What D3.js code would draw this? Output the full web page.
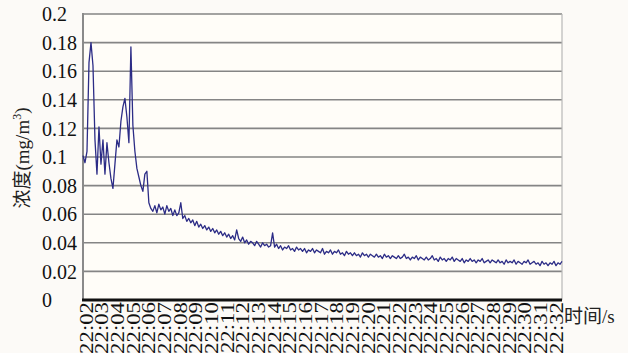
<!DOCTYPE html>
<html>
<head>
<meta charset="utf-8">
<script src="https://cdn.jsdelivr.net/npm/d3@7"></script>
<style>
  body { margin: 0; background: #fcfaf7; }
  svg { display: block; }
</style>
</head>
<body>
<div id="chart"></div>
<script>
// time labels along the bottom (one per minute)
var timeLabels = ["22:02","22:03","22:04","22:05","22:06","22:07","22:08","22:09","22:10","22:11",
  "22:12","22:13","22:14","22:15","22:16","22:17","22:18","22:19","22:20","22:21","22:22",
  "22:23","22:24","22:25","22:26","22:27","22:28","22:29","22:30","22:31","22:32"];
var yTicks = [0, 0.02, 0.04, 0.06, 0.08, 0.1, 0.12, 0.14, 0.16, 0.18, 0.2];
var totalSeconds = 1800;
var sampleStep = 7.5; // seconds between readings
// concentration readings (mg/m3)
var concentration = [
  0.101, 0.096, 0.104, 0.166, 0.180, 0.164, 0.112, 0.088, 0.121, 0.095,
  0.112, 0.088, 0.110, 0.096, 0.085, 0.078, 0.095, 0.112, 0.107, 0.125,
  0.135, 0.141, 0.128, 0.110, 0.177, 0.122, 0.104, 0.092, 0.086, 0.080,
  0.076, 0.088, 0.090, 0.068, 0.064, 0.062,
  0.066, 0.061, 0.067, 0.063, 0.065, 0.060, 0.066, 0.062, 0.064, 0.059,
  0.063, 0.059, 0.061, 0.068, 0.057, 0.059, 0.055, 0.057, 0.054, 0.056,
  0.052, 0.055, 0.051, 0.053, 0.050, 0.052, 0.049, 0.051, 0.048, 0.050,
  0.047, 0.049, 0.046, 0.048, 0.045, 0.047, 0.044, 0.046, 0.043, 0.045,
  0.042, 0.049, 0.043, 0.041, 0.044, 0.040, 0.042, 0.039, 0.041, 0.040,
  0.038, 0.041, 0.039, 0.037, 0.040, 0.038, 0.039, 0.037, 0.038, 0.047,
  0.037, 0.039, 0.036, 0.038, 0.035, 0.037, 0.036, 0.038, 0.035, 0.036,
  0.034, 0.037, 0.035, 0.036, 0.034, 0.036, 0.033, 0.035, 0.034, 0.036,
  0.033, 0.035, 0.034, 0.033, 0.036, 0.032, 0.034, 0.033, 0.035, 0.032,
  0.034, 0.033, 0.035, 0.032, 0.033, 0.031, 0.034, 0.032, 0.033, 0.031,
  0.033, 0.031, 0.032, 0.030, 0.033, 0.031, 0.032, 0.030, 0.032, 0.031,
  0.030, 0.032, 0.030, 0.031, 0.029, 0.032, 0.030, 0.031, 0.029, 0.031,
  0.030, 0.029, 0.031, 0.029, 0.030, 0.032, 0.029, 0.030, 0.028, 0.030,
  0.029, 0.031, 0.028, 0.030, 0.029, 0.028, 0.030, 0.028, 0.029, 0.031,
  0.028, 0.029, 0.027, 0.030, 0.028, 0.029, 0.027, 0.029, 0.028, 0.030,
  0.027, 0.029, 0.028, 0.027, 0.029, 0.026, 0.028, 0.027, 0.029, 0.027,
  0.028, 0.026, 0.028, 0.027, 0.029, 0.026, 0.027, 0.028, 0.026, 0.028,
  0.027, 0.026, 0.028, 0.026, 0.027, 0.025, 0.028, 0.026, 0.027, 0.026,
  0.028, 0.025, 0.027, 0.026, 0.025, 0.027, 0.026, 0.028, 0.025, 0.026,
  0.027, 0.025, 0.026, 0.024, 0.027, 0.025, 0.026, 0.024, 0.026, 0.025,
  0.027, 0.024, 0.026, 0.025, 0.027
];

var serif = "'Liberation Serif', 'Times New Roman', serif";
var cjk = "'Noto Sans CJK SC', sans-serif";

function drawChart() {
  var w = 628, h = 353;
  var plotLeft = 83, plotRight = 562, plotTop = 14, plotBottom = 300;

  var svg = d3.select("#chart").append("svg")
    .attr("width", w).attr("height", h);

  var xScale = d3.scaleLinear().domain([0, totalSeconds]).range([plotLeft, plotRight]);
  var yScale = d3.scaleLinear().domain([0, 0.2]).range([plotBottom, plotTop]);
  var labelScale = d3.scalePoint().domain(timeLabels).range([plotLeft + 3, plotRight - 6]);

  svg.append("rect")
    .attr("x", plotLeft).attr("y", plotTop)
    .attr("width", plotRight - plotLeft).attr("height", plotBottom - plotTop)
    .attr("fill", "#fffdf8");

  // gridlines
  svg.append("g")
    .selectAll("line")
    .data(yTicks.slice(1))
    .enter()
    .append("line")
    .attr("x1", plotLeft).attr("x2", plotRight)
    .attr("y1", function(d) { return yScale(d); })
    .attr("y2", function(d) { return yScale(d); })
    .attr("stroke", "#858585")
    .attr("stroke-width", 1.6);

  // right border
  svg.append("line")
    .attr("x1", plotRight).attr("x2", plotRight).attr("y1", plotTop).attr("y2", plotBottom)
    .attr("stroke", "#b8b8b8").attr("stroke-width", 1.2);
  // left axis
  svg.append("line")
    .attr("x1", plotLeft).attr("x2", plotLeft).attr("y1", plotTop - 1).attr("y2", plotBottom)
    .attr("stroke", "#8a8a8a").attr("stroke-width", 2);

  // y tick labels (left aligned like the original)
  svg.append("g")
    .selectAll("text")
    .data(yTicks)
    .enter()
    .append("text")
    .attr("font-family", serif)
    .attr("x", 42)
    .attr("y", function(d) { return yScale(d); })
    .attr("dy", "0.36em")
    .attr("font-size", 20)
    .attr("fill", "#111")
    .text(function(d) { return d === 0 ? "0" : String(d); });

  // data line
  var line = d3.line()
    .x(function(d, i) { return xScale(i * sampleStep); })
    .y(function(d) { return yScale(d); });

  svg.append("path")
    .datum(concentration)
    .attr("d", line)
    .attr("fill", "none")
    .attr("stroke", "#2c2c86")
    .attr("stroke-width", 1.3)
    .attr("stroke-linejoin", "round");

  // bottom axis line
  svg.append("line")
    .attr("x1", plotLeft - 1).attr("x2", plotRight).attr("y1", plotBottom).attr("y2", plotBottom)
    .attr("stroke", "#111").attr("stroke-width", 3);

  // x tick labels, rotated
  svg.append("g")
    .selectAll("text")
    .data(timeLabels)
    .enter()
    .append("text")
    .attr("font-family", serif)
    .attr("font-size", 19)
    .attr("fill", "#111")
    .attr("text-anchor", "end")
    .attr("transform", function(d) {
      return "translate(" + labelScale(d) + "," + (plotBottom + 2) + ") rotate(-90) scale(1.2,1)";
    })
    .attr("dy", "0.35em")
    .text(function(d) { return d; });

  // axis titles
  var yTitle = svg.append("text")
    .attr("transform", "translate(22,158) rotate(-90)")
    .attr("text-anchor", "middle")
    .attr("dy", "0.35em")
    .attr("font-size", 19)
    .attr("fill", "#222");
  yTitle.append("tspan").attr("font-family", cjk).text("浓度");
  yTitle.append("tspan").attr("font-family", serif).text("(mg/m");
  yTitle.append("tspan").attr("font-family", serif).attr("font-size", 12).attr("dy", "-0.6em").text("3");
  yTitle.append("tspan").attr("font-family", serif).attr("dy", "0.35em").text(")");

  var xTitle = svg.append("text")
    .attr("x", 564).attr("y", 316)
    .attr("dy", "0.35em")
    .attr("font-size", 19)
    .attr("fill", "#222");
  xTitle.append("tspan").attr("font-family", cjk).text("时间");
  xTitle.append("tspan").attr("font-family", serif).text("/s");
}

drawChart();
</script>
</body>
</html>
